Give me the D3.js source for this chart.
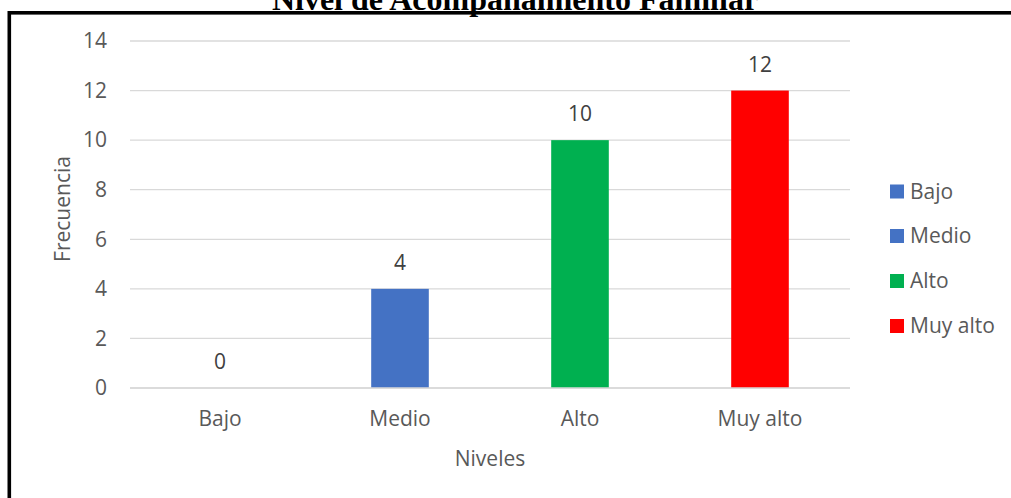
<!DOCTYPE html>
<html><head><meta charset="utf-8">
<script src="https://cdn.jsdelivr.net/npm/d3@7"></script>
<style>
html,body{margin:0;padding:0;background:#fff;overflow:hidden;}
svg{display:block;}
text{font-family:"Open Sans", "Noto Sans", sans-serif;}
</style></head>
<body>
<svg id="c" width="1011" height="498"></svg>
<script>
const categories = ["Bajo", "Medio", "Alto", "Muy alto"];
const values = [0, 4, 10, 12];
const colors = ["#4472C4", "#4472C4", "#00B050", "#FF0000"];
const yTicks = [0, 2, 4, 6, 8, 10, 12, 14];
const title = "Nivel de Acompañamiento Familiar";
const xTitle = "Niveles";
const yTitle = "Frecuencia";

const svg = d3.select("#c");
const W = 1011, H = 498;
const FONT = "'Open Sans','Noto Sans',sans-serif";

// border frame
svg.append("rect").attr("x", 9.3).attr("y", 12.8).attr("width", W + 20).attr("height", H + 20)
  .attr("fill", "none").attr("stroke", "#000").attr("stroke-width", 3.6);

// title (partially cut at top)
svg.append("text").attr("x", 515).attr("y", 10).attr("text-anchor", "middle")
  .style("font-family", "'Liberation Serif','Times New Roman',serif").style("font-weight", "bold")
  .style("font-size", "32px").attr("fill", "#000").text(title);

const x = d3.scaleBand().domain(categories).range([130, 850]).paddingInner(0.68).paddingOuter(0.34);
const y = d3.scaleLinear().domain([0, 14]).range([388, 41]);

// gridlines
svg.append("g").selectAll("line").data(yTicks).join("line")
  .attr("x1", 130).attr("x2", 850).attr("y1", d => y(d)).attr("y2", d => y(d))
  .attr("stroke", "#d9d9d9").attr("stroke-width", 1.3);

// y axis labels
const yAxis = d3.axisLeft(y).tickValues(yTicks).tickSize(0).tickPadding(0);
const gy = svg.append("g").attr("transform", "translate(107,0)").call(yAxis);
gy.select(".domain").remove();
gy.selectAll("text").style("font-size", "21px").attr("fill", "#595959").style("font-family", FONT);

// bars
svg.append("g").selectAll("rect").data(values).join("rect")
  .attr("x", (d, i) => x(categories[i])).attr("width", x.bandwidth())
  .attr("y", d => y(d)).attr("height", d => y(0) - y(d))
  .attr("fill", (d, i) => colors[i]);

// data labels
svg.append("g").selectAll("text").data(values).join("text")
  .attr("x", (d, i) => x(categories[i]) + x.bandwidth() / 2)
  .attr("y", d => y(d) - 19).attr("text-anchor", "middle")
  .style("font-size", "21px").attr("fill", "#404040").text(d => d);

// x axis line
svg.append("line").attr("x1", 130).attr("x2", 850).attr("y1", y(0)).attr("y2", y(0))
  .attr("stroke", "#d9d9d9").attr("stroke-width", 1.3);

// x axis labels
const xAxis = d3.axisBottom(x).tickSize(0).tickPadding(0);
const gx = svg.append("g").attr("transform", "translate(0,411)").call(xAxis);
gx.select(".domain").remove();
gx.selectAll("text").style("font-size", "21px").attr("fill", "#595959").style("font-family", FONT);

// axis titles
svg.append("text").attr("x", 490).attr("y", 466).attr("text-anchor", "middle")
  .style("font-size", "21px").attr("fill", "#595959").text(xTitle);
svg.append("text").attr("transform", "translate(70,209) rotate(-90)").attr("text-anchor", "middle")
  .style("font-size", "21px").attr("fill", "#595959").text(yTitle);

// legend
const legY = [191.5, 236, 281, 326];
const lg = svg.append("g").selectAll("g").data(categories).join("g")
  .attr("transform", (d, i) => `translate(890,${legY[i]})`);
lg.append("rect").attr("x", 0).attr("y", -7).attr("width", 14).attr("height", 14)
  .attr("fill", (d, i) => colors[i]);
lg.append("text").attr("x", 20).attr("y", 7).style("font-size", "21px").attr("fill", "#595959").text(d => d);
</script>
</body></html>
